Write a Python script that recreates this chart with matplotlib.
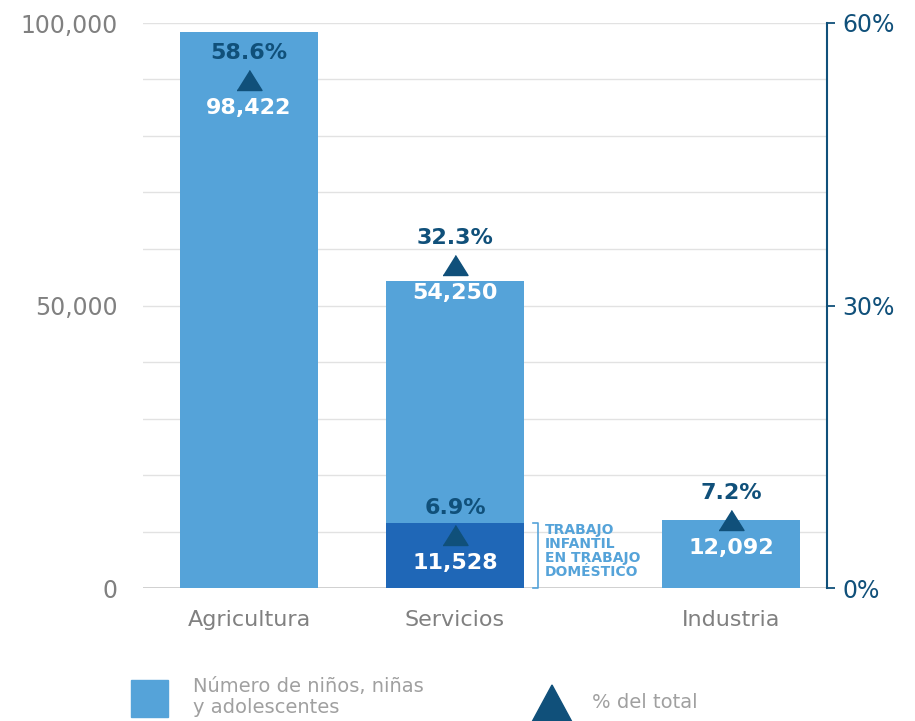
import matplotlib
matplotlib.use('Agg')
import matplotlib.pyplot as plt
from matplotlib import transforms
from matplotlib.patches import Rectangle, Polygon
from matplotlib.ticker import FuncFormatter

# datos
categorias = ['Agricultura', 'Servicios', 'Industria']
ninos = [98422, 54250, 12092]
porcentaje = [58.6, 32.3, 7.2]
domestico = 11528
porc_domestico = 6.9
etiqueta_domestico = 'TRABAJO\nINFANTIL\nEN TRABAJO\nDOMÉSTICO'

# estilo / posiciones
posx = [0, 1, 2.34]
ancho = 0.67
ajuste_tri = [44, -19, 0]     # desplazamiento vertical del triangulo (px, + abajo)
ajuste_tri_dom = 12
sep_txt = 27

claro = '#55a3d9'
oscuro = '#1f67b7'
azul = '#10507a'
gris = '#808080'

plt.rcParams['font.family'] = ['DejaVu Sans']

fig = plt.figure(figsize=(9.15, 7.21), dpi=100)
ax = fig.add_axes([143/915, 1-588/721, (827-143)/915, (588-23)/721])
ax2 = ax.twinx()

# barras
ax.bar(posx, ninos, width=ancho, color=claro, zorder=2)
ax.bar(posx[1], domestico, width=ancho, color=oscuro, zorder=3)

ax.set_xlim(-0.5146, 2.8058)
ax.set_ylim(0, 100000)
ax.set_yticks([0, 50000, 100000])
ax.set_yticks(range(0, 100001, 10000), minor=True)
ax.yaxis.set_major_formatter(FuncFormatter(lambda v, p: f'{int(v):,}'))
ax.grid(True, which='both', axis='y', color='#e2e2e2', linewidth=1, zorder=0)
ax.axhline(0, color='#c4c4c4', linewidth=1.2, zorder=1)
ax.tick_params(axis='y', which='both', length=0, pad=18, labelsize=17, labelcolor=gris)
ax.set_xticks(posx, categorias)
ax.tick_params(axis='x', length=0, pad=16, labelsize=16, labelcolor=gris)
for s in ax.spines.values():
    s.set_visible(False)

# eje derecho
ax2.set_ylim(0, 60)
ax2.set_yticks([0, 30, 60])
ax2.yaxis.set_major_formatter(FuncFormatter(lambda v, p: f'{v:.0f}%'))
ax2.tick_params(axis='y', direction='out', length=6, width=1.3, color=azul,
                labelcolor=azul, labelsize=17, pad=5)
for k, s in ax2.spines.items():
    s.set_visible(k == 'right')
ax2.spines['right'].set_color(azul)
ax2.spines['right'].set_linewidth(1.5)

tri = [(-1, -0.8), (1, -0.8), (0, 0.8)]


def marca(x, pct, n, dy, color_n):
    t = transforms.offset_copy(ax2.transData, fig=fig, x=0, y=-dy, units='dots')
    ax2.plot([x], [pct], marker=tri, markersize=18, color=azul,
             linestyle='none', transform=t, zorder=5, clip_on=False)
    tp = transforms.offset_copy(ax2.transData, fig=fig, x=0, y=-dy + sep_txt, units='dots')
    ax2.text(x, pct, f'{pct:.1f}%', transform=tp, ha='center', va='center',
             fontsize=16, fontweight='bold', color=azul, zorder=6)
    tn = transforms.offset_copy(ax2.transData, fig=fig, x=0, y=-dy - sep_txt - 1, units='dots')
    ax2.text(x, pct, f'{n:,}', transform=tn, ha='center', va='center',
             fontsize=16, fontweight='bold', color=color_n, zorder=6)


for x, p, n, dy in zip(posx, porcentaje, ninos, ajuste_tri):
    marca(x, p, n, dy, 'white')
marca(posx[1], porc_domestico, domestico, ajuste_tri_dom, 'white')

# corchete trabajo domestico
xb = posx[1] + ancho / 2 + 14 / 206
ax.plot([xb - 5 / 206, xb, xb, xb - 5 / 206], [domestico, domestico, 0, 0],
        color=claro, linewidth=1.2, zorder=4, clip_on=False)
ax.text(xb + 7 / 206, domestico, etiqueta_domestico, ha='left', va='top',
        fontsize=10, fontweight='bold', color=claro, linespacing=1.0, zorder=4)

# leyenda
fig.add_artist(Rectangle((131/915, 1-717/721), 37/915, 37/721,
                         transform=fig.transFigure, color=claro))
fig.text(193/915, 1-697/721, 'Número de niños, niñas\ny adolescentes', ha='left',
         va='center', fontsize=14, color='#a0a0a0', linespacing=1.1)
fig.add_artist(Polygon([(532/915, 1-722/721), (572/915, 1-722/721), (552/915, 1-685/721)],
                       closed=True, transform=fig.transFigure, color=azul))
fig.text(592/915, 1-703/721, '% del total', ha='left', va='center',
         fontsize=14, color='#a0a0a0')

fig.savefig('out.png', dpi=100)
